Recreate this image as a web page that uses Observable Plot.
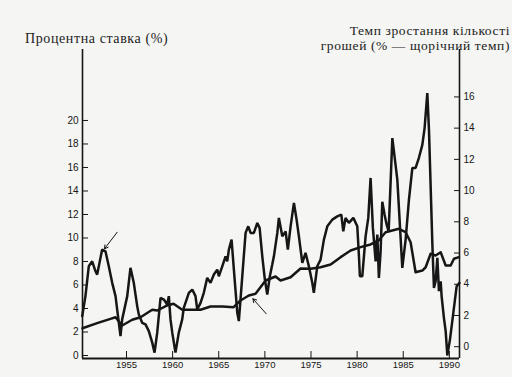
<!DOCTYPE html>
<html><head><meta charset="utf-8">
<script src="https://cdn.jsdelivr.net/npm/d3@7"></script>
<script src="https://cdn.jsdelivr.net/npm/@observablehq/plot@0.6"></script>
<style>
body{margin:0;background:#f5f5f3;}
#wrap{position:relative;width:512px;height:377px;overflow:hidden;background:#f5f5f3;}
.t{position:absolute;font-family:"Liberation Serif","Times New Roman",serif;color:#222;white-space:nowrap;}
#chart{position:absolute;left:0;top:0;}
</style></head><body>
<div id="wrap">
<div class="t" id="tl" style="left:25px;top:31px;font-size:14px;letter-spacing:0.6px;">Процентна ставка (%)</div>
<div class="t" id="tr" style="right:2px;top:24px;font-size:13.5px;text-align:right;line-height:14.5px;letter-spacing:0.6px;">Темп зростання кількості<br>грошей (% — щорічний темп)</div>
<div id="chart"></div>
</div>
<script>
// Interest rate (left axis, %)
const rateYears = [1950.23,1951.82,1953.26,1953.81,1954.53,1955.62,1956.52,1957.79,1958.33,1959.41,1960.10,1961.04,1963.03,1964.11,1965.41,1966.61,1967.36,1968.26,1968.99,1970.08,1971.16,1971.70,1972.79,1973.87,1974.96,1976.04,1977.13,1978.21,1979.30,1980.38,1981.46,1982.33,1983.09,1984.53,1985.26,1985.80,1986.34,1987.07,1987.43,1987.97,1988.51,1989.06,1989.60,1990.14,1990.50,1991.04];
const rateValues = [2.32,2.75,3.12,3.26,2.55,3.04,3.26,3.89,3.83,4.26,4.40,3.89,3.89,4.17,4.17,4.11,4.68,5.11,5.25,6.38,6.72,6.38,6.66,7.40,7.38,7.51,7.74,8.37,8.94,9.22,9.45,9.79,10.49,10.78,10.49,9.64,7.09,7.23,7.51,8.66,8.51,8.79,7.66,7.66,8.23,8.37];

// Money growth rate (right axis, % annual rate)
const moneyYears = [1950.20,1950.55,1950.91,1951.28,1951.64,1951.82,1952.18,1952.36,1952.72,1953.08,1953.45,1953.81,1953.99,1954.35,1954.53,1955.08,1955.43,1955.79,1956.16,1956.33,1956.70,1957.06,1957.42,1957.79,1958.04,1958.33,1958.69,1959.05,1959.41,1959.59,1959.77,1959.96,1960.31,1960.67,1961.04,1961.21,1961.76,1962.13,1962.48,1962.67,1963.03,1963.38,1963.75,1964.11,1964.47,1964.84,1965.01,1965.38,1965.74,1965.92,1966.10,1966.39,1966.64,1967.01,1967.18,1967.55,1967.91,1968.20,1968.45,1968.81,1969.18,1969.43,1969.72,1970.00,1970.26,1970.54,1970.80,1970.98,1971.35,1971.52,1971.89,1972.25,1972.49,1972.79,1973.15,1973.44,1973.69,1974.06,1974.41,1974.77,1975.14,1975.31,1975.68,1976.04,1976.40,1976.77,1977.31,1977.85,1978.29,1978.50,1978.75,1979.11,1979.59,1980.02,1980.20,1980.30,1980.56,1980.92,1981.21,1981.46,1981.71,1982.01,1982.19,1982.36,1982.55,1982.73,1982.98,1983.20,1983.42,1983.82,1984.36,1984.90,1985.26,1985.62,1985.99,1986.34,1986.70,1987.07,1987.32,1987.61,1987.79,1988.16,1988.33,1988.51,1988.70,1988.87,1989.06,1989.16,1989.41,1989.60,1989.78,1990.07,1990.43,1990.79,1991.10];
const moneyGrowth = [1.96,3.24,5.15,5.47,4.83,4.62,5.69,6.22,6.11,5.15,4.09,3.24,2.38,0.68,1.75,3.24,5.05,4.09,2.60,2.07,1.53,1.43,1.00,0.26,-0.38,0.90,3.13,3.02,2.70,3.24,1.75,0.90,-0.38,0.90,1.75,2.49,3.45,3.66,3.24,2.38,2.81,3.45,4.41,4.09,4.62,4.94,4.51,5.15,5.79,5.47,6.22,6.86,4.94,2.17,1.64,4.51,7.29,7.71,7.29,7.29,7.93,7.61,5.79,4.30,3.34,4.51,5.26,5.79,7.29,8.25,7.07,7.39,6.22,7.71,9.21,8.14,7.07,5.37,6.01,5.15,4.09,3.45,5.15,5.58,6.86,7.71,8.14,8.35,8.46,7.39,8.25,7.93,8.25,7.71,5.79,4.51,4.51,7.07,8.25,10.81,7.61,5.47,7.18,4.41,6.11,9.29,8.46,7.82,7.39,13.36,10.70,5.05,6.86,9.42,11.45,11.45,12.10,12.93,14.02,16.24,13.89,6.54,3.77,4.19,5.69,3.56,4.19,3.24,1.85,1.00,-0.56,0.47,2.17,3.87,4.09];

// Axis ticks
const xTicks = [1955,1960,1965,1970,1975,1980,1985,1990];
const leftTicks = [0,2,4,6,8,10,12,14,16,18,20];
const rightTicks = [0,2,4,6,8,10,12,14,16];

// Annotation arrows (year, left-axis value)
const arrowFromYear = [1953.99, 1970.15];
const arrowFromVal = [10.49, 3.55];
const arrowToYear = [1952.61, 1968.70];
const arrowToVal = [9.08, 4.83];

// right axis -> left axis units
const toLeft = r => 0.749 + 1.3285 * r;
const fromLeft = v => (v - 0.749) / 1.3285;

const rate = rateYears.map((y, i) => ({year: y, v: rateValues[i]}));
const money = moneyYears.map((y, i) => ({year: y, v: toLeft(moneyGrowth[i])}));
const arrows = arrowFromYear.map((y, i) => ({x1: y, y1: arrowFromVal[i], x2: arrowToYear[i], y2: arrowToVal[i]}));

const xDom = [1950.23, 1991.1];
const yDom = [-0.255, 26.04];
const ink = "#161616";

const chart = Plot.plot({
  width: 512,
  height: 377,
  marginLeft: 82,
  marginRight: 53,
  marginTop: 49,
  marginBottom: 19,
  style: {background: "transparent", fontFamily: "'Liberation Sans', Arial, sans-serif", color: ink},
  x: {domain: xDom, label: null},
  y: {domain: yDom, label: null},
  marks: [
    Plot.ruleX([xDom[0]], {stroke: ink, strokeWidth: 1.6}),
    Plot.ruleX([xDom[1]], {stroke: ink, strokeWidth: 1.6}),
    Plot.ruleY([yDom[0]], {stroke: ink, strokeWidth: 1.8}),
    Plot.axisX({ticks: xTicks, tickFormat: d => String(d), tickSize: -7, tickPadding: 10, fontSize: 9.5, stroke: ink}),
    Plot.axisY({ticks: leftTicks, tickSize: -6, tickPadding: 10, fontSize: 10, stroke: ink}),
    Plot.axisY({anchor: "right", ticks: rightTicks.map(toLeft), tickFormat: v => String(Math.round(fromLeft(v))), tickSize: -6, tickPadding: 10, fontSize: 10, stroke: ink}),
    Plot.line(rate, {x: "year", y: "v", stroke: ink, strokeWidth: 2.5, strokeLinejoin: "round"}),
    Plot.line(money, {x: "year", y: "v", stroke: ink, strokeWidth: 2.5, strokeLinejoin: "miter"}),
    Plot.arrow(arrows, {x1: "x1", y1: "y1", x2: "x2", y2: "y2", stroke: ink, strokeWidth: 1, headLength: 6})
  ]
});
document.getElementById("chart").appendChild(chart);
</script>
</body></html>
